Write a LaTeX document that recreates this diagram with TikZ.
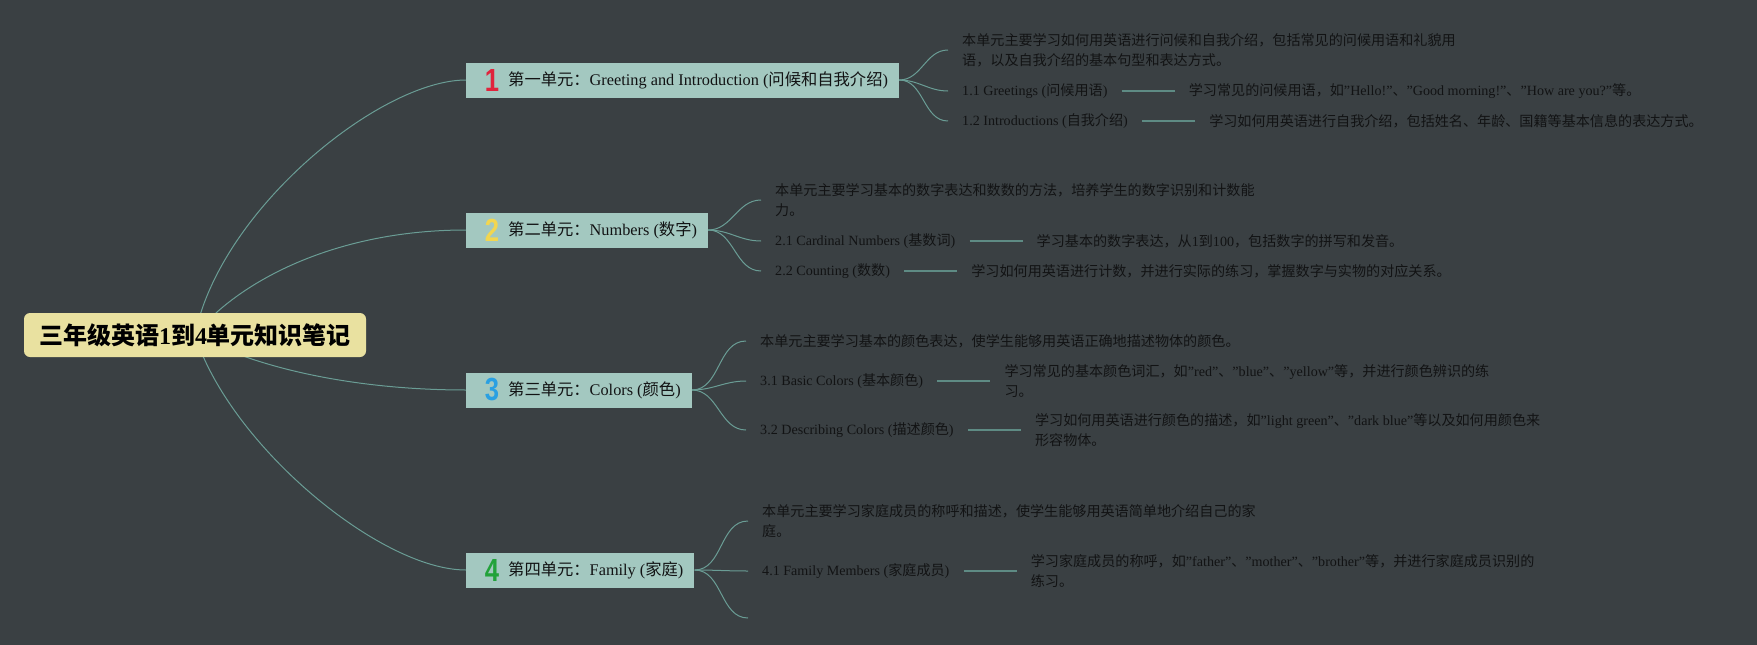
\documentclass[tikz,border=0pt]{standalone}
\usepackage{fontspec}
\usepackage{tikz}
\usetikzlibrary{positioning}
\usetikzlibrary{calc}

\setmainfont{Liberation Serif}
\newfontfamily\cjk{Noto Sans CJK SC}
\newfontfamily\numfont{Liberation Sans}

% CJK runs are set in the CJK face
\newcount\cjkcode
\chardef\cjkclass=1
\def\cjkrange#1#2{\cjkcode=#1\relax
  \loop\XeTeXcharclass\cjkcode=\cjkclass
  \ifnum\cjkcode<#2\relax\advance\cjkcode by 1\repeat}
\cjkrange{"3000}{"303F}
\cjkrange{"4E00}{"9FFF}
\cjkrange{"FF00}{"FFEF}
\XeTeXinterchartoks 0 \cjkclass = {\cjk}
\XeTeXinterchartoks 4095 \cjkclass = {\cjk}
\XeTeXinterchartoks \cjkclass 0 = {\rmfamily}
\XeTeXinterchartoks \cjkclass 4095 = {\rmfamily}
\XeTeXinterchartokenstate=1

\definecolor{pagebg}{HTML}{3A4043}
\definecolor{wire}{HTML}{6A9D95}
\definecolor{stemc}{HTML}{5E8B84}
\definecolor{unitfill}{HTML}{A3C8C0}
\definecolor{rootfill}{HTML}{E9E1A0}
\definecolor{ink}{HTML}{121314}
\definecolor{numa}{HTML}{E0243C}
\definecolor{numb}{HTML}{F2D650}
\definecolor{numc}{HTML}{2AA0E2}
\definecolor{numd}{HTML}{22A23A}

\pgfdeclarelayer{bg}
\pgfdeclarelayer{wires}
\pgfsetlayers{bg,wires,main}

\begin{document}
\begin{tikzpicture}[x=1pt,y=1pt,
    rootbox/.style={fill=rootfill, rounded corners=6pt, minimum width=342pt, minimum height=44pt, text=black, font=\fontsize{24}{28}\selectfont\bfseries},
    unitbox/.style={fill=unitfill, anchor=west, minimum height=35pt, inner xsep=11pt, text=ink, font=\fontsize{16.3}{20}\selectfont},
    numicon/.style={text=#1, inner sep=0pt, xscale=0.8, font=\numfont\bfseries\fontsize{32}{32}\selectfont},
    leaf/.style={anchor=west, inner xsep=14pt, align=left, text=ink, font=\fontsize{14.1}{20}\selectfont},
    trunk/.style={draw=wire, line width=1pt},
    twig/.style={draw=wire, line width=1pt, out=0, in=180},
    stem/.style={draw=stemc, line width=2pt}]
    \useasboundingbox (0,0) rectangle (1757,-645);
    \node[rootbox] (root) at (195,-335) {三年级英语1到4单元知识笔记};

    \node[unitbox] (u1) at (466,-80) {\hspace*{31pt}第一单元：Greeting and Introduction (问候和自我介绍)};
    \node[unitbox] (u2) at (466,-230) {\hspace*{31pt}第二单元：Numbers (数字)};
    \node[unitbox] (u3) at (466,-390) {\hspace*{31pt}第三单元：Colors (颜色)};
    \node[unitbox] (u4) at (466,-570) {\hspace*{31pt}第四单元：Family (家庭)};
    \node[numicon=numa] (i1) at (492,-80) {1};
    \node[numicon=numb] (i2) at (492,-230) {2};
    \node[numicon=numc] (i3) at (492,-390) {3};
    \node[numicon=numd] (i4) at (492,-570) {4};

    \node[leaf] (s1) at (948,-50) {本单元主要学习如何用英语进行问候和自我介绍，包括常见的问候用语和礼貌用\\语，以及自我介绍的基本句型和表达方式。};
    \node[leaf] (l11) at (948,-91) {1.1 Greetings (问候用语)};
    \node[leaf, right=53pt of l11] (t11) {学习常见的问候用语，如"Hello!"、"Good morning!"、"How are you?"等。};
    \node[leaf] (l12) at (948,-121) {1.2 Introductions (自我介绍)};
    \node[leaf, right=53pt of l12] (t12) {学习如何用英语进行自我介绍，包括姓名、年龄、国籍等基本信息的表达方式。};

    \node[leaf] (s2) at (761,-200) {本单元主要学习基本的数字表达和数数的方法，培养学生的数字识别和计数能\\力。};
    \node[leaf] (l21) at (761,-241) {2.1 Cardinal Numbers (基数词)};
    \node[leaf, right=53pt of l21] (t21) {学习基本的数字表达，从1到100，包括数字的拼写和发音。};
    \node[leaf] (l22) at (761,-271) {2.2 Counting (数数)};
    \node[leaf, right=53pt of l22] (t22) {学习如何用英语进行计数，并进行实际的练习，掌握数字与实物的对应关系。};

    \node[leaf] (s3) at (746,-341) {本单元主要学习基本的颜色表达，使学生能够用英语正确地描述物体的颜色。};
    \node[leaf] (l31) at (746,-381) {3.1 Basic Colors (基本颜色)};
    \node[leaf, right=53pt of l31] (t31) {学习常见的基本颜色词汇，如"red"、"blue"、"yellow"等，并进行颜色辨识的练\\习。};
    \node[leaf] (l32) at (746,-430) {3.2 Describing Colors (描述颜色)};
    \node[leaf, right=53pt of l32] (t32) {学习如何用英语进行颜色的描述，如"light green"、"dark blue"等以及如何用颜色来\\形容物体。};

    \node[leaf] (s4) at (748,-521) {本单元主要学习家庭成员的称呼和描述，使学生能够用英语简单地介绍自己的家\\庭。};
    \node[leaf] (l41) at (748,-571) {4.1 Family Members (家庭成员)};
    \node[leaf, right=53pt of l41] (t41) {学习家庭成员的称呼，如"father"、"mother"、"brother"等，并进行家庭成员识别的\\练习。};
    \coordinate (e4) at (748,-618);

    \begin{pgfonlayer}{wires}
        \path[trunk] (root.center) .. controls +(25,125) and +(-86,0) .. (u1.west);
        \path[trunk] (root.center) .. controls +(40,50) and +(-136,0) .. (u2.west);
        \path[trunk] (root.center) .. controls +(65,-35) and +(-106,0) .. (u3.west);
        \path[trunk] (root.center) .. controls +(35,-110) and +(-86,0) .. (u4.west);
        \path (u1.east) edge[twig] (s1.west) edge[twig] (l11.west) edge[twig] (l12.west);
        \path (u2.east) edge[twig] (s2.west) edge[twig] (l21.west) edge[twig] (l22.west);
        \path (u3.east) edge[twig] (s3.west) edge[twig] (l31.west) edge[twig] (l32.west);
        \path (u4.east) edge[twig] (s4.west) edge[twig] (l41.west) edge[twig] (e4);
        \path (l11.east) edge[stem] (t11.west);
        \path (l12.east) edge[stem] (t12.west);
        \path (l21.east) edge[stem] (t21.west);
        \path (l22.east) edge[stem] (t22.west);
        \path (l31.east) edge[stem] (t31.west);
        \path (l32.east) edge[stem] (t32.west);
        \path (l41.east) edge[stem] (t41.west);
    \end{pgfonlayer}
    \begin{pgfonlayer}{bg}
        \fill[pagebg] (0,0) rectangle (1757,-645);
    \end{pgfonlayer}
\end{tikzpicture}
\end{document}
